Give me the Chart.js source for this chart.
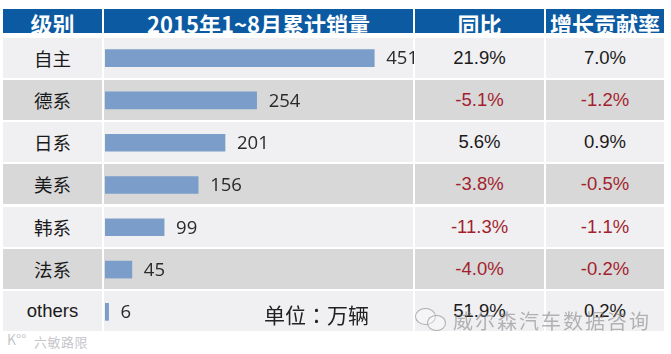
<!DOCTYPE html>
<html>
<head>
<meta charset="utf-8">
<title>2015年1~8月累计销量</title>
<script src="https://cdn.jsdelivr.net/npm/chart.js@4/dist/chart.umd.min.js"></script>
<style>
  html, body { margin: 0; padding: 0; background: #fff; }
  #page { position: relative; width: 671px; height: 354px; overflow: hidden; }
  .cell { position: absolute; display: flex; align-items: center; justify-content: center; white-space: nowrap; overflow: hidden; }
  .head { background: #0b5aa2; color: #fff; font: bold 22px "Noto Sans CJK SC", sans-serif; align-items: flex-start; }
  .head span { margin-top: -2px; }
  .body { font: 18.5px "Liberation Sans", sans-serif; color: #1a1a1a; }
  .cjk { font: 18.5px "Noto Sans CJK SC", sans-serif; }
  .neg { color: #a31f2e; }
  #wrap { position: absolute; left: 105px; top: 37px; width: 320px; height: 296px; }
  .note { position: absolute; left: 264px; top: 299px; font: 21px "Noto Sans CJK TC", sans-serif; color: #222; white-space: nowrap; }
  .mark { position: absolute; white-space: nowrap; font-family: "Noto Sans CJK SC", sans-serif; }
  .bubble { position: absolute; border: 1.5px solid rgba(150,150,155,.75); border-radius: 50%; background: rgba(255,255,255,.35); }
</style>
</head>
<body>
<div id="page">
  <div id="wrap"><canvas id="chartSales"></canvas></div>
  <div class="note">单位：万辆</div>
  <div class="bubble" style="left:415px;top:308px;width:19px;height:15px"></div>
  <div class="bubble" style="left:427px;top:315px;width:17px;height:14px"></div>
  <div class="mark" style="left:453px;top:306px;font-size:20px;letter-spacing:2px;color:rgba(125,125,130,.55)">威尔森汽车数据咨询</div>
  <div class="mark" style="left:7px;top:329px;font-size:14px;color:rgba(190,190,195,.9)">K°°</div>
  <div class="mark" style="left:34px;top:332px;font-size:13px;letter-spacing:.5px;color:rgba(190,190,195,.9)">六敏路限</div>
</div>
<script>
'use strict';

var headers       = ['级别', '2015年1~8月累计销量', '同比', '增长贡献率'];
var categories    = ['自主', '德系', '日系', '美系', '韩系', '法系', 'others'];
var sales         = [451, 254, 201, 156, 99, 45, 6];
var yoy           = ['21.9%', '-5.1%', '5.6%', '-3.8%', '-11.3%', '-4.0%', '51.9%'];
var contribution  = ['7.0%', '-1.2%', '0.9%', '-0.5%', '-1.1%', '-0.2%', '0.2%'];

/* ── TABLE CELLS ───────────────────────────────────────────────── */
var page = document.getElementById('page');
var wrap = document.getElementById('wrap');

var colX = [3, 104, 415, 546];
var colW = [99, 309, 129, 118];
var rowTop = 37.5, rowPitch = 42.3, rowH = 40;

function addCell(cls, col, top, h, text, bg) {
  var el = document.createElement('div');
  el.className = 'cell ' + cls;
  el.style.cssText = 'left:' + colX[col] + 'px;top:' + top + 'px;width:' + colW[col] + 'px;height:' + h + 'px;';
  if (bg) el.style.background = bg;
  if (text) {
    var s = document.createElement('span');
    s.textContent = text;
    el.appendChild(s);
  }
  page.insertBefore(el, wrap);
}

headers.forEach(function(h, c) { addCell('head', c, 9, 24, h); });

categories.forEach(function(name, i) {
  var top = rowTop + i * rowPitch;
  var bg = i % 2 === 1 ? '#d8d8d9' : '#f0eff1';
  [name, '', yoy[i], contribution[i]].forEach(function(t, c) {
    var cls = 'body';
    if (c === 0 && name !== 'others') cls += ' cjk';
    if (c >= 2 && t.charAt(0) === '-') cls += ' neg';
    addCell(cls, c, top, rowH, t, bg);
  });
});

/* ── BAR CHART ─────────────────────────────────────────────────── */
var valueLabels = {
  id: 'valueLabels',
  afterDatasetsDraw: function(chart) {
    var meta = chart.getDatasetMeta(0);
    var ctx = chart.ctx;
    ctx.save();
    ctx.font = '18.5px "Open Sans", sans-serif';
    ctx.fillStyle = '#2a2a2a';
    ctx.textAlign = 'left';
    ctx.textBaseline = 'middle';
    meta.data.forEach(function(bar, i) {
      ctx.fillText(String(sales[i]), bar.x + 12, bar.y + 1);
    });
    ctx.restore();
  }
};

new Chart(document.getElementById('chartSales'), {
  type: 'bar',
  data: {
    labels: categories,
    datasets: [{ data: sales, backgroundColor: '#7a9ec9', barThickness: 17, borderWidth: 0 }]
  },
  options: {
    indexAxis: 'y',
    responsive: true,
    maintainAspectRatio: false,
    animation: false,
    layout: { padding: 0 },
    scales: {
      x: { display: false, min: 0, max: 536 },
      y: { display: false }
    },
    plugins: { legend: { display: false }, tooltip: { enabled: false } }
  },
  plugins: [valueLabels]
});
</script>
</body>
</html>
